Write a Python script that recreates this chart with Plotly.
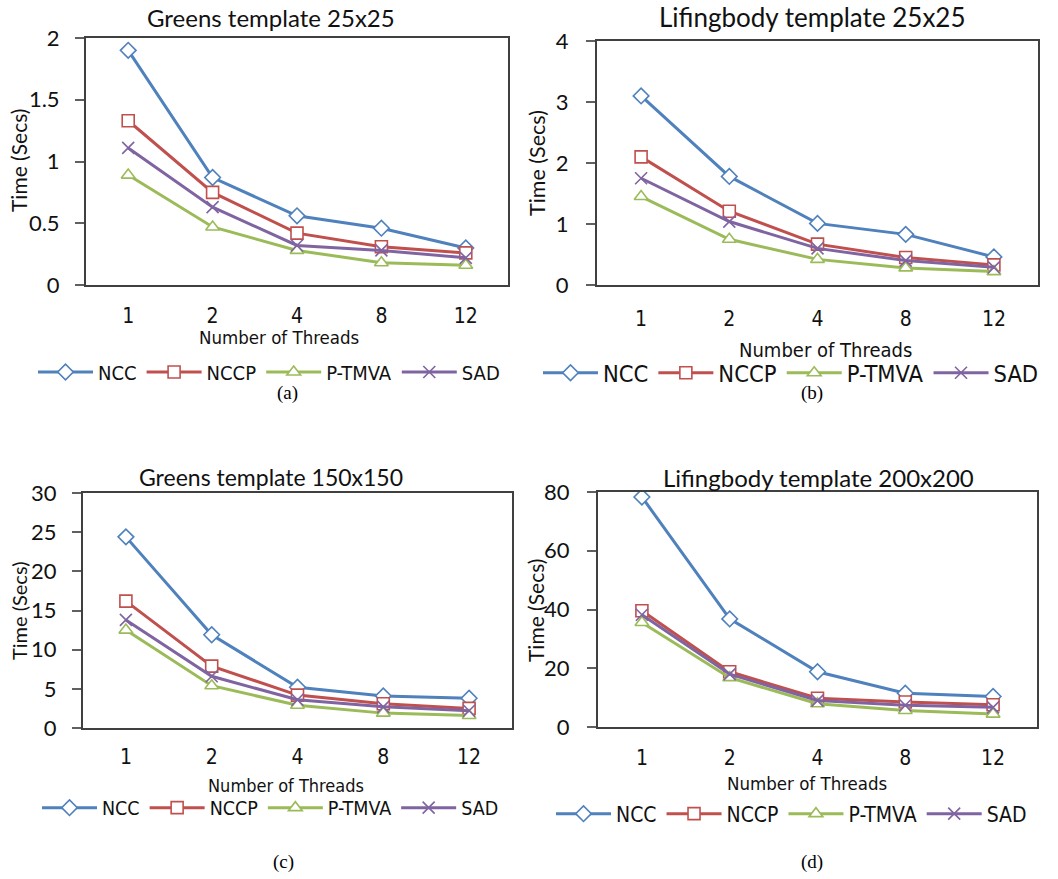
import plotly.graph_objects as go

W, H = 1058, 879

threads = ["1", "2", "4", "8", "12"]
series_names = ["NCC", "NCCP", "P-TMVA", "SAD"]

# Panel (a) Greens template 25x25
a_ncc = [1.90, 0.87, 0.56, 0.46, 0.30]
a_nccp = [1.33, 0.75, 0.42, 0.31, 0.26]
a_ptmva = [0.89, 0.47, 0.28, 0.18, 0.16]
a_sad = [1.11, 0.63, 0.32, 0.28, 0.22]

# Panel (b) Lifingbody template 25x25
b_ncc = [3.10, 1.78, 1.01, 0.83, 0.46]
b_nccp = [2.10, 1.21, 0.67, 0.45, 0.33]
b_ptmva = [1.45, 0.75, 0.42, 0.28, 0.22]
b_sad = [1.75, 1.04, 0.60, 0.40, 0.29]

# Panel (c) Greens template 150x150
c_ncc = [24.4, 11.9, 5.2, 4.1, 3.8]
c_nccp = [16.2, 7.9, 4.2, 3.1, 2.5]
c_ptmva = [12.5, 5.4, 2.9, 1.9, 1.6]
c_sad = [13.8, 6.6, 3.6, 2.7, 2.2]

# Panel (d) Lifingbody template 200x200
d_ncc = [78.3, 36.8, 18.8, 11.5, 10.4]
d_nccp = [39.6, 18.8, 9.8, 8.5, 7.6]
d_ptmva = [35.6, 16.8, 7.9, 5.6, 4.4]
d_sad = [38.2, 18.0, 9.0, 7.4, 6.7]

titles = ["Greens template 25x25", "Lifingbody template 25x25",
          "Greens template 150x150", "Lifingbody template 200x200"]
captions = ["(a)", "(b)", "(c)", "(d)"]
y_ranges = [[0, 2], [0, 4], [0, 30], [0, 80]]
y_dticks = [0.5, 1, 5, 20]

colors = ["#4F81BD", "#C0504D", "#9BBB59", "#8064A2"]
symbols = ["diamond", "square", "triangle-up", "x-thin"]

panels = [
    [a_ncc, a_nccp, a_ptmva, a_sad],
    [b_ncc, b_nccp, b_ptmva, b_sad],
    [c_ncc, c_nccp, c_ptmva, c_sad],
    [d_ncc, d_nccp, d_ptmva, d_sad],
]

# layout geometry (pixels in the final page)
plot_boxes = [(86, 508, 38, 285), (597, 1038, 41, 285),
              (83, 512, 493, 728), (598, 1037, 492, 727)]
title_pos = [(271, 17), (812, 17), (271, 477), (818, 477)]
title_size = [24, 26, 23, 24]
ylabel_pos = [(18, 161), (537, 163), (19, 611), (535, 611)]
ylabel_size = [21, 21.5, 20, 21]
xlabel_pos = [(279, 337), (825, 350), (286, 785), (807, 783)]
xlabel_size = [18.5, 20, 18, 18.5]
legend_pos = [(33, 372), (538, 373), (37, 808), (551, 814)]
legend_font = [20, 23.5, 19.5, 21]
caption_pos = [(287, 393), (812, 393), (283, 862), (812, 862)]
xtick_standoff = [11, 14, 9, 11]
ytick_standoff = [11, 13, 11, 13]

NARROW = "Liberation Sans Narrow, DejaVu Sans Condensed, Arial Narrow, sans-serif"
CAL = "Lato, Carlito, Calibri, sans-serif"


def px(x):
    return x / W


def py(y):
    return 1 - y / H


fig = go.Figure()
annotations = []
layout = dict(width=W, height=H,
              margin=dict(l=0, r=0, t=0, b=0, pad=0, autoexpand=False),
              paper_bgcolor="white", plot_bgcolor="white", showlegend=True)

for i, data in enumerate(panels):
    n = "" if i == 0 else str(i + 1)
    xa, ya = "x" + n, "y" + n
    leg = "legend" + n
    for j, vals in enumerate(data):
        fig.add_trace(go.Scatter(
            x=threads, y=vals, name=series_names[j], mode="lines+markers",
            xaxis=xa, yaxis=ya, legend=leg,
            line=dict(color=colors[j], width=3),
            marker=dict(symbol=symbols[j], size=12,
                        color=colors[j] if symbols[j] == "x-thin" else "white",
                        line=dict(width=1.6, color=colors[j])),
        ))
    x0, x1, y0, y1 = plot_boxes[i]
    layout["xaxis" + n] = dict(
        domain=[px(x0), px(x1)], anchor=ya, type="category",
        range=[-0.5, 4.5], showline=True, mirror=True, linecolor="#404040",
        linewidth=2, ticks="", showgrid=False, zeroline=False,
        ticklabelstandoff=xtick_standoff[i],
        tickfont=dict(family=NARROW, size=21, color="#111"))
    layout["yaxis" + n] = dict(
        domain=[py(y1), py(y0)], anchor=xa, range=y_ranges[i],
        dtick=y_dticks[i], showline=True, mirror=True, linecolor="#404040",
        linewidth=2, ticks="outside", ticklen=9, tickwidth=1.5,
        tickcolor="#606060", showgrid=False, zeroline=False,
        ticklabelstandoff=ytick_standoff[i],
        tickfont=dict(family=CAL, size=22, color="#111"))
    lx, ly = legend_pos[i]
    layout[leg] = dict(
        orientation="h", x=px(lx), y=py(ly), xanchor="left", yanchor="middle",
        bgcolor="rgba(0,0,0,0)",
        font=dict(family=NARROW, size=legend_font[i], color="#111"),
        itemwidth=55, tracegroupgap=0)
    tx, ty = title_pos[i]
    annotations.append(dict(text=titles[i], x=px(tx), y=py(ty), xref="paper", yref="paper",
                            showarrow=False, xanchor="center", yanchor="middle",
                            font=dict(family=CAL, size=title_size[i], color="#111")))
    yx, yy = ylabel_pos[i]
    annotations.append(dict(text="Time (Secs)", x=px(yx), y=py(yy), xref="paper", yref="paper",
                            showarrow=False, textangle=-90, xanchor="center", yanchor="middle",
                            font=dict(family=CAL, size=ylabel_size[i], color="#111")))
    bx, by = xlabel_pos[i]
    annotations.append(dict(text="Number of Threads", x=px(bx), y=py(by), xref="paper", yref="paper",
                            showarrow=False, xanchor="center", yanchor="middle",
                            font=dict(family=NARROW, size=xlabel_size[i], color="#111")))
    cx, cy = caption_pos[i]
    annotations.append(dict(text=captions[i], x=px(cx), y=py(cy), xref="paper", yref="paper",
                            showarrow=False, xanchor="center", yanchor="middle",
                            font=dict(family="Liberation Serif, Times New Roman, serif",
                                      size=19, color="#000")))

layout["annotations"] = annotations
fig.update_layout(**layout)
fig.write_html(
    "out.html",
    config={"displayModeBar": False},
    post_script="document.body.style.margin='0';document.body.style.padding='0';"
                "document.documentElement.style.overflow='hidden';",
)
